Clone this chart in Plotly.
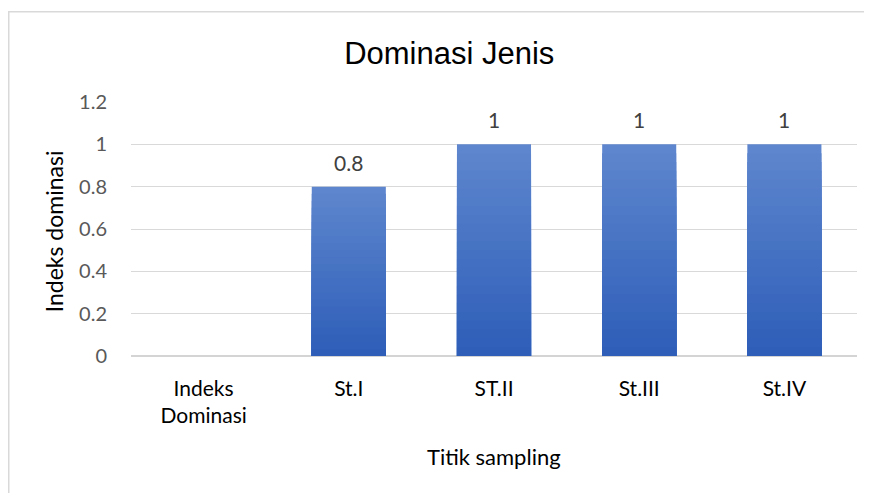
import plotly.graph_objects as go

categories = ["Indeks<br>Dominasi", "St.I", "ST.II", "St.III", "St.IV"]
values = [None, 0.8, 1, 1, 1]
labels = ["", "0.8", "1", "1", "1"]
y_ticks = [0, 0.2, 0.4, 0.6, 0.8, 1.0, 1.2]
y_tick_text = ["0", "0.2", "0.4", "0.6", "0.8", "1", "1.2"]

TICK_FONT = "Lato, Calibri, Carlito, sans-serif"

def lerp(c1, c2, t):
    return "#%02x%02x%02x" % tuple(round(a + (b - a) * t) for a, b in zip(c1, c2))

top_col = (0x5E, 0x86, 0xCE)
bot_col = (0x2E, 0x5E, 0xB8)

fig = go.Figure()
steps = 24
for i in range(steps):
    frac = 1 - i / steps
    ys = [None if v is None else v * frac for v in values]
    fig.add_trace(go.Bar(
        x=categories, y=ys,
        marker=dict(color=lerp(top_col, bot_col, i / (steps - 1)), line=dict(width=0)),
        width=0.51,
        showlegend=False,
        hoverinfo="skip",
    ))

annotations = [
    dict(x=c, y=v, xref="x", yref="y", text=t, showarrow=False,
         yanchor="bottom", xanchor="center", yshift=10,
         font=dict(family=TICK_FONT, size=21, color="#404040"))
    for c, v, t in zip(categories, values, labels) if v is not None
]
annotations += [
    dict(text="Indeks dominasi", xref="paper", yref="paper", x=-0.106, y=0.491,
         textangle=-90, showarrow=False, xanchor="center", yanchor="middle",
         font=dict(family=TICK_FONT, size=23, color="#000000")),
    dict(text="Titik sampling", xref="paper", yref="paper", x=0.5, y=-0.397,
         showarrow=False, xanchor="center", yanchor="middle",
         font=dict(family=TICK_FONT, size=22, color="#000000")),
]

fig.update_layout(
    width=872, height=493,
    barmode="overlay",
    paper_bgcolor="white", plot_bgcolor="white",
    margin=dict(l=123, r=23, t=93.5, b=145),
    title=dict(text="Dominasi Jenis", x=0.506, xanchor="center", y=1 - 45 / 493, yanchor="middle",
               font=dict(family="Liberation Sans, Arial, sans-serif", size=31, color="#000000")),
    xaxis=dict(
        showgrid=False, showline=False, zeroline=False,
        tickfont=dict(family=TICK_FONT, size=21, color="#000000"),
        ticks="", ticklabelstandoff=18,
    ),
    yaxis=dict(
        range=[0, 1.2], tickvals=y_ticks, ticktext=y_tick_text,
        showgrid=True, gridcolor="#D9D9D9", gridwidth=1,
        zeroline=True, zerolinecolor="#D4D4D4", zerolinewidth=1.5,
        showline=False, ticks="", ticklabelstandoff=23,
        tickfont=dict(family=TICK_FONT, size=20, color="#595959"),
    ),
    annotations=annotations,
    shapes=[
        dict(type="rect", xref="paper", yref="paper", x0=-0.1684, x1=1.2, y0=-0.7, y1=1.3556,
             line=dict(color="#D9D9D9", width=1.5), fillcolor="rgba(0,0,0,0)", layer="below"),
    ],
)

fig.write_html("out.html")
